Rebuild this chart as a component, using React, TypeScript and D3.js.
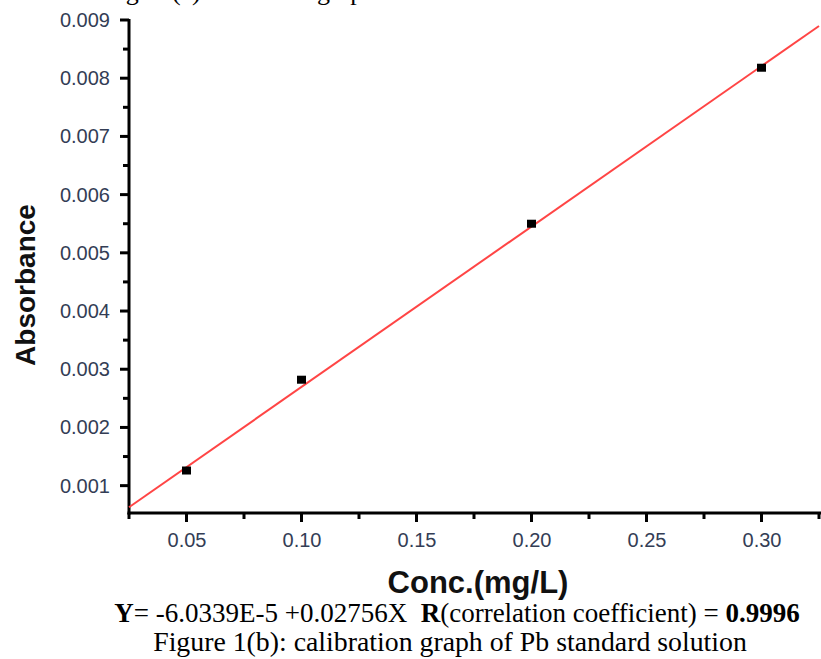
import React, { useEffect, useRef } from "react";
import * as d3 from "d3";

// calibration standards (mg/L) and measured absorbance
const concentrations = [0.05, 0.1, 0.2, 0.3];
const absorbances = [0.00126, 0.00282, 0.0055, 0.00818];

// linear fit reported under the chart
const fitIntercept = -6.0339e-5;
const fitSlope = 0.02756;

const xMajorTicks = [0.05, 0.1, 0.15, 0.2, 0.25, 0.3];
const xMinorTicks = [0.025, 0.075, 0.125, 0.175, 0.225, 0.275, 0.325];
const yMajorTicks = [0.001, 0.002, 0.003, 0.004, 0.005, 0.006, 0.007, 0.008, 0.009];
const yMinorTicks = [0.0015, 0.0025, 0.0035, 0.0045, 0.0055, 0.0065, 0.0075, 0.0085];

const xLabel = "Conc.(mg/L)";
const yLabel = "Absorbance";
const topFragment = "Figure(a) shows the graph";
const caption = "Figure 1(b): calibration graph of Pb standard solution";

const W = 821;
const H = 659;
const sans = "'Liberation Sans', Arial, sans-serif";
const serif = "'Liberation Serif', 'Times New Roman', serif";
const tickColor = "#333d55";
const axisWidth = 3;

export default function App() {
  const ref = useRef<SVGSVGElement>(null);

  useEffect(() => {
    const svg = d3.select(ref.current);
    svg.selectAll("*").remove();

    const x = d3.scaleLinear().domain([0.025, 0.325]).range([129, 819]);
    const y = d3.scaleLinear().domain([0.00053, 0.009]).range([513, 20]);
    const x0 = x.range()[0];
    const y0 = y.range()[0];

    // clipped line of text left over from the page above
    svg
      .append("text")
      .attr("x", 104)
      .attr("y", 0)
      .attr("font-family", serif)
      .attr("font-size", 26)
      .text(topFragment);

    // tick labels via d3 axes (tick lines drawn separately below)
    const gx = svg.append("g").attr("transform", `translate(0,${y0})`);
    gx.call(
      d3
        .axisBottom(x)
        .tickValues(xMajorTicks)
        .tickSize(0)
        .tickPadding(20)
        .tickFormat(d3.format(".2f"))
    );
    const gy = svg.append("g").attr("transform", `translate(${x0},0)`);
    gy.call(
      d3
        .axisLeft(y)
        .tickValues(yMajorTicks)
        .tickSize(0)
        .tickPadding(19)
        .tickFormat(d3.format(".3f"))
    );
    svg.selectAll(".domain").remove();
    svg
      .selectAll(".tick text")
      .attr("fill", tickColor)
      .attr("font-family", sans)
      .attr("font-size", 20);

    // axis lines and tick marks
    const ax = svg
      .append("g")
      .attr("stroke", "#000")
      .attr("stroke-width", axisWidth)
      .attr("fill", "none");
    ax.append("line")
      .attr("x1", x0 - 1.5)
      .attr("x2", x.range()[1] + 2)
      .attr("y1", y0)
      .attr("y2", y0);
    ax.append("line")
      .attr("x1", x0)
      .attr("x2", x0)
      .attr("y1", y0 + 1.5)
      .attr("y2", y.range()[1] - 1);
    const xTicks = [
      ...xMajorTicks.map((v) => ({ v, len: 9 })),
      ...xMinorTicks.map((v) => ({ v, len: 6 })),
    ];
    ax.selectAll("line.xt")
      .data(xTicks)
      .enter()
      .append("line")
      .attr("class", "xt")
      .attr("x1", (d) => x(d.v))
      .attr("x2", (d) => x(d.v))
      .attr("y1", y0)
      .attr("y2", (d) => y0 + d.len);
    const yTicks = [
      ...yMajorTicks.map((v) => ({ v, len: 9 })),
      ...yMinorTicks.map((v) => ({ v, len: 6 })),
    ];
    ax.selectAll("line.yt")
      .data(yTicks)
      .enter()
      .append("line")
      .attr("class", "yt")
      .attr("x1", x0)
      .attr("x2", (d) => x0 - d.len)
      .attr("y1", (d) => y(d.v))
      .attr("y2", (d) => y(d.v));

    // fitted line
    const fitData = x.domain().map((c) => ({ c, a: fitIntercept + fitSlope * c }));
    svg
      .append("path")
      .datum(fitData)
      .attr("fill", "none")
      .attr("stroke", "#ff4545")
      .attr("stroke-width", 2)
      .attr(
        "d",
        d3
          .line<{ c: number; a: number }>()
          .x((d) => x(d.c))
          .y((d) => y(d.a))
      );

    // measured points
    const pts = concentrations.map((c, i) => ({ c, a: absorbances[i] }));
    svg
      .selectAll("rect.pt")
      .data(pts)
      .enter()
      .append("rect")
      .attr("class", "pt")
      .attr("x", (d) => x(d.c) - 4.5)
      .attr("y", (d) => y(d.a) - 4)
      .attr("width", 9)
      .attr("height", 8)
      .attr("fill", "#000");

    // axis titles
    svg
      .append("text")
      .attr("x", 478)
      .attr("y", 593)
      .attr("text-anchor", "middle")
      .attr("font-family", sans)
      .attr("font-weight", "bold")
      .attr("font-size", 31)
      .attr("fill", "#111")
      .text(xLabel);

    svg
      .append("text")
      .attr("transform", "translate(35,285) rotate(-90)")
      .attr("text-anchor", "middle")
      .attr("font-family", sans)
      .attr("font-weight", "bold")
      .attr("font-size", 28)
      .attr("fill", "#111")
      .text(yLabel);

    // equation and caption
    const eq = svg
      .append("text")
      .attr("x", 457)
      .attr("y", 622)
      .attr("text-anchor", "middle")
      .attr("font-family", serif)
      .attr("font-size", 27)
      .attr("xml:space", "preserve");
    eq.append("tspan").attr("font-weight", "bold").text("Y");
    eq.append("tspan").text(`= ${fitIntercept.toExponential(4).replace("e", "E")} +${fitSlope}X  `);
    eq.append("tspan").attr("font-weight", "bold").text("R");
    eq.append("tspan").text("(correlation coefficient) = ");
    eq.append("tspan").attr("font-weight", "bold").text("0.9996");

    svg
      .append("text")
      .attr("x", 450)
      .attr("y", 651)
      .attr("text-anchor", "middle")
      .attr("font-family", serif)
      .attr("font-size", 27.8)
      .text(caption);
  }, []);

  return (
    <svg
      ref={ref}
      width={W}
      height={H}
      style={{ position: "absolute", left: 0, top: 0, background: "#fff" }}
    />
  );
}
